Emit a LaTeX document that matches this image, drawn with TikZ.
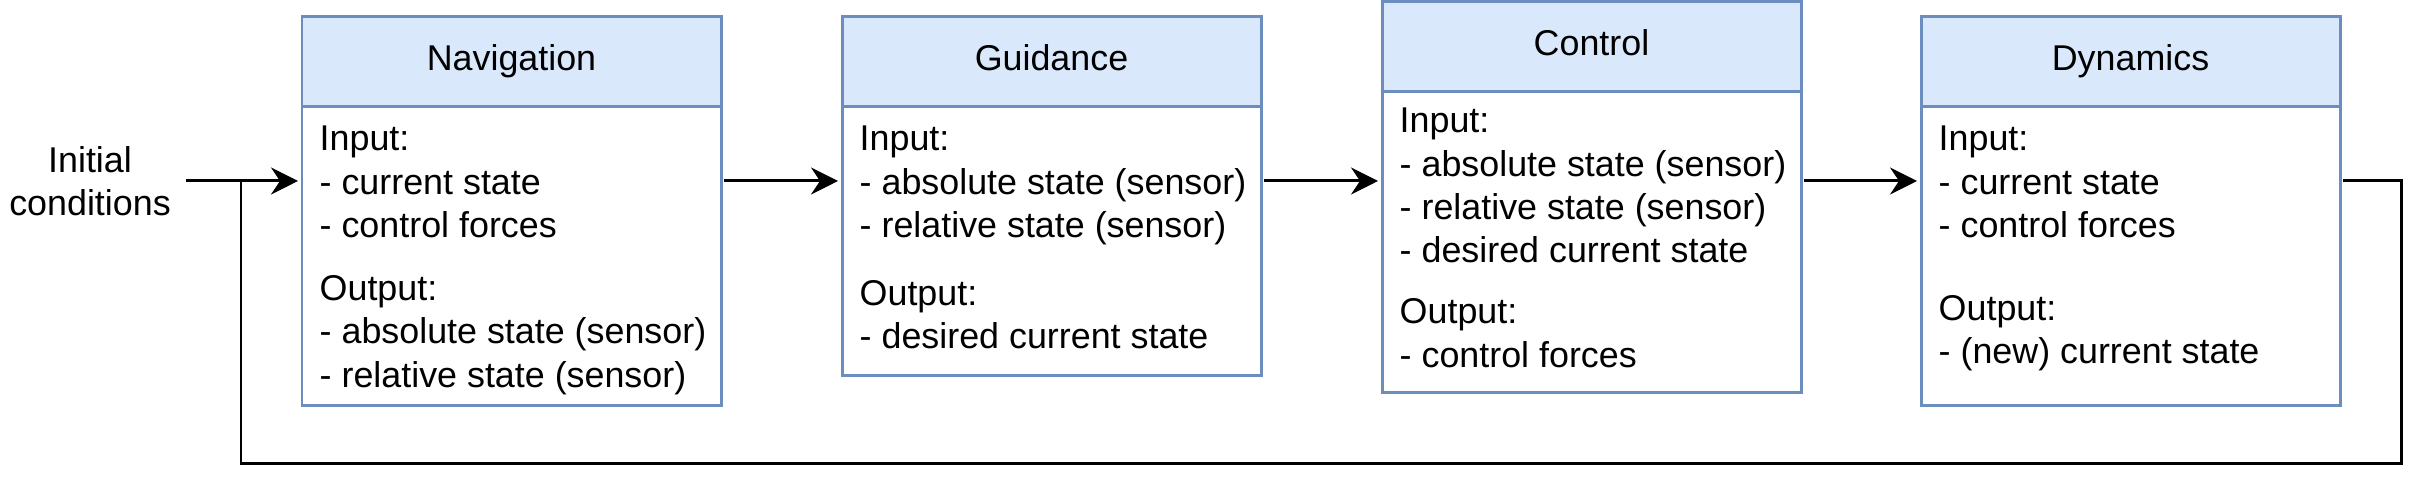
\documentclass[tikz,border=0pt]{standalone}
\usepackage{fontspec}
\setmainfont{Liberation Sans}
\usetikzlibrary{positioning,arrows.meta}

\definecolor{boxline}{HTML}{6C8EBF}
\definecolor{boxfill}{HTML}{DAE8FC}

\tikzset{
  blocktitle/.style={draw=boxline, fill=boxfill, line width=0.85pt,
    minimum width=4.19cm, minimum height=0.9cm, inner sep=0pt, outer sep=0pt},
  blockbody/.style={draw=boxline, line width=0.85pt,
    minimum width=4.19cm, inner sep=0pt, outer sep=0pt},
  blocktext/.style={align=left, inner sep=0pt, anchor=north west},
  link/.style={line width=0.85pt},
  flow/.style={link, -{Stealth[length=0.27cm, width=0.27cm, inset=0.09cm]},
    shorten <=0.03cm, shorten >=0.04cm},
}

\begin{document}
\begin{tikzpicture}[font=\fontsize{10.2}{12.3}\selectfont]
    \useasboundingbox (0,0) rectangle (24.27,-4.92);

    % Start value
    \node[align=center] (init) at (0.90,-1.85) {\strut Initial\\conditions\strut};
    \coordinate (junc) at (2.41,-1.81);

    % Navigation block
    \node[blocktitle, anchor=north west] (navtitle) at (3.02,-0.17) {\strut Navigation};
    \node[blockbody, minimum height=2.99cm, below=0pt of navtitle] (navbody) {};
    \node[blocktext] (navtext) at ([xshift=0.17cm, yshift=-0.13cm]navbody.north west)
        {\strut Input:\\- current state\\- control forces\\[0.2cm]Output:\\- absolute state (sensor)\\- relative state (sensor)};

    % Guidance block
    \node[blocktitle, anchor=north west] (guidtitle) at (8.42,-0.17) {\strut Guidance};
    \node[blockbody, minimum height=2.69cm, below=0pt of guidtitle] (guidbody) {};
    \node[blocktext] (guidtext) at ([xshift=0.17cm, yshift=-0.13cm]guidbody.north west)
        {\strut Input:\\- absolute state (sensor)\\- relative state (sensor)\\[0.25cm]Output:\\- desired current state};

    % Control block
    \node[blocktitle, anchor=north west] (ctrltitle) at (13.82,-0.02) {\strut Control};
    \node[blockbody, minimum height=3.01cm, below=0pt of ctrltitle] (ctrlbody) {};
    \node[blocktext] (ctrltext) at ([xshift=0.17cm, yshift=-0.10cm]ctrlbody.north west)
        {\strut Input:\\- absolute state (sensor)\\- relative state (sensor)\\- desired current state\\[0.18cm]Output:\\- control forces};

    % Dynamics block
    \node[blocktitle, anchor=north west] (dyntitle) at (19.21,-0.17) {\strut Dynamics};
    \node[blockbody, minimum height=2.99cm, below=0pt of dyntitle] (dynbody) {};
    \node[blocktext] (dyntext) at ([xshift=0.17cm, yshift=-0.13cm]dynbody.north west)
        {\strut Input:\\- current state\\- control forces\\[0.4cm]Output:\\- (new) current state};

    % Connectors
    \draw[flow] (init.east |- junc) -- (navbody.west |- junc);
    \draw[flow] (navbody.east |- junc) -- (guidbody.west |- junc);
    \draw[flow] (guidbody.east |- junc) -- (ctrlbody.west |- junc);
    \draw[flow] (ctrlbody.east |- junc) -- (dynbody.west |- junc);

    % Feedback loop
    \draw[link, shorten <=0.03cm] (dynbody.east |- junc) -| (24.01,-4.64) -| (junc);
\end{tikzpicture}
\end{document}
